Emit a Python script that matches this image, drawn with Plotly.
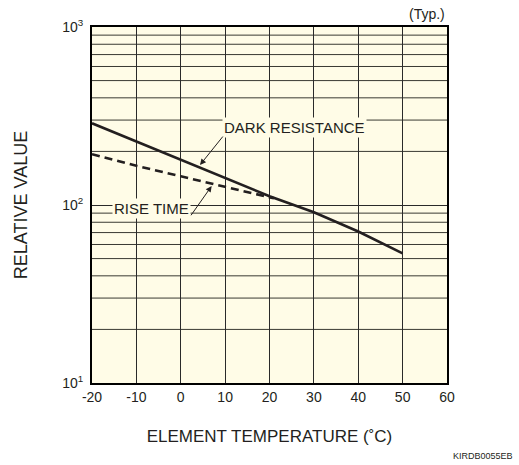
import plotly.graph_objects as go

# Data
temp_dark = [-20, -10, 0, 10, 20, 30, 40, 50]
dark_resistance = [288, 227, 179, 141, 112, 91, 71, 53.5]
temp_rise = [-20, -10, 0, 10, 21]
rise_time = [193, 166, 145, 126, 109]

x_ticks = [-20, -10, 0, 10, 20, 30, 40, 50, 60]
x_ticktext = ["-20", "-10", "0", "10", "20", "30", "40", "50", "60"]
y_ticks = [10, 100, 1000]
y_ticktext = ["10<sup>1</sup>", "10<sup>2</sup>", "10<sup>3</sup>"]
minor_y = [m * d for d in (10, 100) for m in range(2, 10)]

BG = "#FFFCE7"
FONT = "Liberation Sans, Arial, Helvetica, sans-serif"

fig = go.Figure()
fig.add_trace(go.Scatter(x=temp_dark, y=dark_resistance, mode="lines",
                         line=dict(color="#231f20", width=2.6), showlegend=False))
fig.add_trace(go.Scatter(x=temp_rise, y=rise_time, mode="lines",
                         line=dict(color="#231f20", width=2.6, dash="8px,5px"),
                         showlegend=False))

shapes = []
for v in minor_y:
    shapes.append(dict(type="line", xref="paper", yref="y", x0=0, x1=1, y0=v, y1=v,
                       line=dict(color="#3a3a32", width=1), layer="below"))

fig.update_layout(
    width=519, height=465,
    margin=dict(l=92, r=72, t=27, b=82),
    paper_bgcolor="white", plot_bgcolor=BG,
    font=dict(family=FONT, color="#231f20", size=14),
    xaxis=dict(range=[-20, 60], tickvals=x_ticks, ticktext=x_ticktext, ticks="",
               showgrid=True, gridcolor="#2a2a2a", gridwidth=1, zeroline=False,
               showline=True, linecolor="black", linewidth=2, mirror=True,
               tickfont=dict(size=14),
               title=dict(text="ELEMENT TEMPERATURE (˚C)", font=dict(size=17), standoff=26)),
    yaxis=dict(type="log", range=[1, 3], tickvals=y_ticks, ticktext=y_ticktext,
               ticks="", showgrid=True, gridcolor="#2a2a2a", gridwidth=1,
               zeroline=False, showline=True, linecolor="black", linewidth=2, mirror=True,
               tickfont=dict(size=14), ticklabelstandoff=4,
               title=dict(text="RELATIVE VALUE", font=dict(size=18), standoff=30)),
    shapes=shapes,
)

# label: DARK RESISTANCE
fig.add_annotation(x=25.6, y=2.435, xref="x", yref="y", text="DARK RESISTANCE",
                   showarrow=False, bgcolor=BG, borderpad=1, font=dict(size=15))
fig.add_shape(type="line", xref="x", yref="y", x0=9.75, x1=41.5,
              y0=10 ** 2.393, y1=10 ** 2.393, line=dict(color="#231f20", width=1))
fig.add_annotation(x=4.34, y=2.225, ax=9.75, ay=2.393, xref="x", yref="y",
                   axref="x", ayref="y", text="", showarrow=True, arrowhead=2,
                   arrowsize=1.2, arrowwidth=1, arrowcolor="#231f20", standoff=0)

# label: RISE TIME
fig.add_annotation(x=-6.7, y=1.983, xref="x", yref="y", text="RISE TIME",
                   showarrow=False, bgcolor=BG, borderpad=1, font=dict(size=15))
fig.add_shape(type="line", xref="x", yref="y", x0=-15.27, x1=2.08,
              y0=10 ** 1.934, y1=10 ** 1.934, line=dict(color="#231f20", width=1))
fig.add_annotation(x=6.97, y=2.107, ax=2.08, ay=1.934, xref="x", yref="y",
                   axref="x", ayref="y", text="", showarrow=True, arrowhead=2,
                   arrowsize=1.2, arrowwidth=1, arrowcolor="#231f20", standoff=0)

fig.add_annotation(x=1, y=1, xref="paper", yref="paper", yshift=3, text="(Typ.)",
                   showarrow=False, xanchor="right", yanchor="bottom", font=dict(size=14))
fig.add_annotation(x=1.1915, y=-0.2247, xref="paper", yref="paper", text="KIRDB0055EB",
                   showarrow=False, font=dict(size=9), xanchor="right", yanchor="bottom")

fig.write_html("out.html")
